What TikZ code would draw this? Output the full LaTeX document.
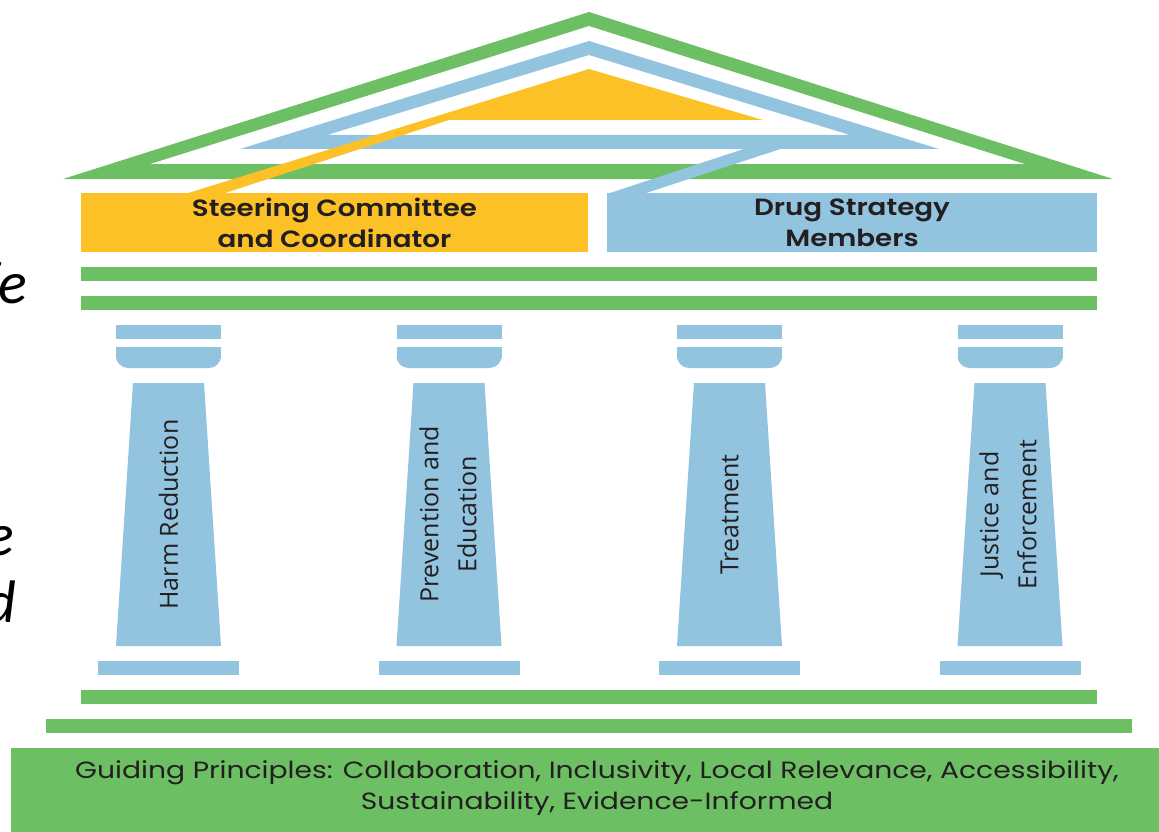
\documentclass[tikz,border=0pt]{standalone}
\usepackage{fontspec}
\setmainfont{Poppins}[BoldFont={* SemiBold}, FakeStretch=1.18]
\newfontfamily\basefont{Poppins}[FakeStretch=1.2]
\newfontfamily\colfont{Open Sans}
\newfontfamily\sidefont{Carlito}
\definecolor{grn}{HTML}{6DBF63}
\definecolor{blu}{HTML}{92C3DF}
\definecolor{yel}{HTML}{FDC128}
\definecolor{ink}{HTML}{231F20}
\tikzset{
  boxtext/.style={text=ink, align=center, inner sep=0pt, font=\bfseries\fontsize{23.5}{31}\selectfont},
  coltext/.style={text=ink, align=center, inner sep=0pt, rotate=90, font=\colfont\fontsize{25}{38}\selectfont},
  basetext/.style={text=ink, align=center, inner sep=0pt, font=\basefont\fontsize{23.5}{31}\selectfont},
  sidetext/.style={text=black, anchor=base east, inner sep=0pt, font=\sidefont\itshape\fontsize{60}{60}\selectfont}
}
\begin{document}
\begin{tikzpicture}[x=1pt,y=-1pt]
\useasboundingbox (0,0) rectangle (1159,832);
% roof
\fill[grn,even odd rule] (63,179) -- (589,12) -- (1113,179) -- cycle
                          (150,164) -- (589,26) -- (1025,164) -- cycle;
\fill[blu,even odd rule] (240,149) -- (589,41) -- (939,149) -- cycle
                          (327,135) -- (589,55) -- (850,135) -- cycle;
\fill[blu] (771,140) -- (808,140) -- (643,194) -- (607,194) -- cycle;
\fill[yel] (589,69) -- (763,120) -- (449,120) -- (222,194) -- (185,194) -- cycle;
% entablature boxes
\fill[yel] (81,193) rectangle (588,252);
\fill[blu] (607,193) rectangle (1097,252);
\node[boxtext] (steer) at (334.5,223) {Steering Committee\\and Coordinator};
\node[boxtext] (members) at (852,223) {Drug Strategy\\Members};
\fill[grn] (81,267) rectangle (1097,281);
\fill[grn] (81,296) rectangle (1097,310);
% columns
\foreach \cx in {168.5,449,729.5,1010}{
  \fill[blu] (\cx-52.5,325) rectangle (\cx+52.5,339);
  \fill[blu,rounded corners=12pt] (\cx-52.5,347) rectangle (\cx+52.5,368);
  \fill[blu] (\cx-52.5,347) rectangle (\cx+52.5,358);
  \fill[blu] (\cx-35.5,383) -- (\cx+35.5,383) -- (\cx+52.5,646) -- (\cx-52.5,646) -- cycle;
  \fill[blu] (\cx-70.5,661) rectangle (\cx+70.5,675);
}
\node[coltext] (harm) at (168.5,514.5) {Harm Reduction};
\node[coltext] (prev) at (448,514.5) {Prevention and\\Education};
\node[coltext] (treat) at (729.5,514.5) {Treatment};
\node[coltext] (just) at (1008,514.5) {Justice and\\Enforcement};
% base
\fill[grn] (81,690) rectangle (1097,704);
\fill[grn] (46,719) rectangle (1132,733);
\fill[grn] (11,748) rectangle (1159,832);
\node[basetext] (guide) at (597,788) {Guiding Principles: Collaboration, Inclusivity, Local Relevance, Accessibility,\\Sustainability, Evidence-Informed};
% cut-off side text
\node[sidetext] (s1) at (27,303) {fe};
\node[sidetext] (s2) at (14,555) {e};
\node[sidetext] (s3) at (17,622) {d};
\end{tikzpicture}
\end{document}
